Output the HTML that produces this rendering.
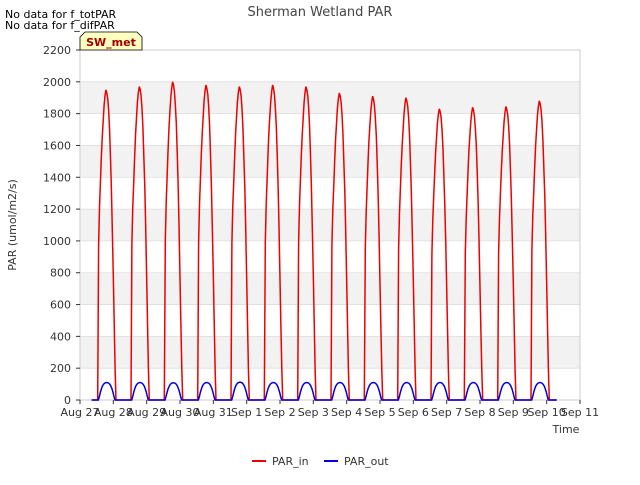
<!DOCTYPE html>
<html><head><meta charset="utf-8"><style>
body{margin:0;background:#fff;font-family:"Liberation Sans","DejaVu Sans",sans-serif;}
svg text{font-family:"DejaVu Sans","Liberation Sans",sans-serif;}
</style></head><body>
<svg id="chart" width="640" height="480" xmlns="http://www.w3.org/2000/svg">
<rect x="0" y="0" width="640" height="480" fill="#fff"/>
<g id="bands"></g>
<g id="grid"></g>
<rect x="80" y="50" width="500" height="350" fill="none" stroke="#ccc"/>
<g id="ticks"></g>
<g id="series"></g>
<text x="320" y="16" text-anchor="middle" font-size="13" fill="#444">Sherman Wetland PAR</text>
<text x="5" y="18" font-size="11" fill="#000">No data for f_totPAR</text>
<text x="5" y="29" font-size="11" fill="#000">No data for f_difPAR</text>
<g>
<path d="M80,50 L80,37 L85,32 L137,32 L142,37 L142,50 Z" fill="#ffffc0" stroke="#000" stroke-width="0.8"/>
<text x="111" y="46" text-anchor="middle" font-size="11" font-weight="bold" fill="#a00000">SW_met</text>
</g>
<text x="16" y="225" text-anchor="middle" font-size="11" fill="#333" transform="rotate(-90 16 225)">PAR (umol/m2/s)</text>
<text x="566" y="433" text-anchor="middle" font-size="11" fill="#333">Time</text>
<g>
<line x1="252" y1="461" x2="266" y2="461" stroke="#e00" stroke-width="2"/>
<text x="272" y="465" font-size="11" fill="#333">PAR_in</text>
<line x1="324" y1="461" x2="338" y2="461" stroke="#00d" stroke-width="2"/>
<text x="344" y="465" font-size="11" fill="#333">PAR_out</text>
</g>
</svg>
<script>
const dayLabels=["Aug 27","Aug 28","Aug 29","Aug 30","Aug 31","Sep 1","Sep 2","Sep 3","Sep 4","Sep 5","Sep 6","Sep 7","Sep 8","Sep 9","Sep 10","Sep 11"];
const yTicks=[0,200,400,600,800,1000,1200,1400,1600,1800,2000,2200];
const parInPeaks=[1950,1970,2000,1980,1970,1980,1970,1930,1910,1900,1830,1840,1845,1880];
const parOutPeaks=[110,110,108,110,112,110,110,110,110,110,110,110,110,110];
const dayShape=[0,0.5,0.62,0.7,0.78,0.85,0.9,0.95,0.98,1,0.99,0.97,0.93,0.87,0.78,0.68,0.55,0.4,0.25,0.1,0];
const outShape=[0,0.2,0.45,0.65,0.8,0.9,0.96,0.99,1,0.99,0.96,0.9,0.8,0.65,0.45,0.2,0];
const NS="http://www.w3.org/2000/svg";
const X0=80,X1=580,Y0=400,Y1=50,YMAX=2200,NDAYS=15;
const xs=d=>X0+(X1-X0)*d/NDAYS;
const ys=v=>Y0-(Y0-Y1)*v/YMAX;
function mk(tag,attrs,parent){const e=document.createElementNS(NS,tag);for(const k in attrs)e.setAttribute(k,attrs[k]);parent.appendChild(e);return e;}
const bands=document.getElementById('bands'),grid=document.getElementById('grid'),ticks=document.getElementById('ticks'),series=document.getElementById('series');
for(let i=0;i<yTicks.length-1;i++){
  if(i%2===1){const r=mk('rect',{x:X0,y:ys(yTicks[i+1]),width:X1-X0,height:ys(yTicks[i])-ys(yTicks[i+1]),fill:'#f2f2f2'},bands);
  
  }
}
yTicks.forEach(v=>{
  const l=mk('line',{x1:X0,x2:X1,y1:ys(v),y2:ys(v),stroke:'#ddd','stroke-width':0.8},grid);
  
  
  const t=mk('text',{x:X0-9,y:ys(v)+4,'text-anchor':'end','font-size':11,fill:'#333'},ticks);t.textContent=v;
  
  
  mk('line',{x1:X0-4,x2:X0,y1:ys(v),y2:ys(v),stroke:'#333'},ticks);
});
dayLabels.forEach((lab,i)=>{
  const x=xs(i);
  mk('line',{x1:x,x2:x,y1:Y0,y2:Y0+4,stroke:'#333'},ticks);
  const t=mk('text',{x:x,y:Y0+16,'text-anchor':'middle','font-size':11,fill:'#333'},ticks);t.textContent=lab;
  
  
});
function buildPath(peaks,shape,start,end){
  let pts=[[0.35,0]];
  peaks.forEach((p,i)=>{
    const s=i+start,e=i+end;
    shape.forEach((f,j)=>{pts.push([s+(e-s)*j/(shape.length-1),p*f]);});
  });
  pts.push([peaks.length+0.3,0]);
  return pts.map((q,k)=>(k?'L':'M')+xs(q[0]).toFixed(1)+','+ys(q[1]).toFixed(1)).join(' ');
}
const pin=mk('path',{d:buildPath(parInPeaks,dayShape,0.53,1.08),fill:'none',stroke:'#e00','stroke-width':1.5},series);


const pout=mk('path',{d:buildPath(parOutPeaks,outShape,0.55,1.05),fill:'none',stroke:'#00d','stroke-width':1.5},series);


</script>
</body></html>
